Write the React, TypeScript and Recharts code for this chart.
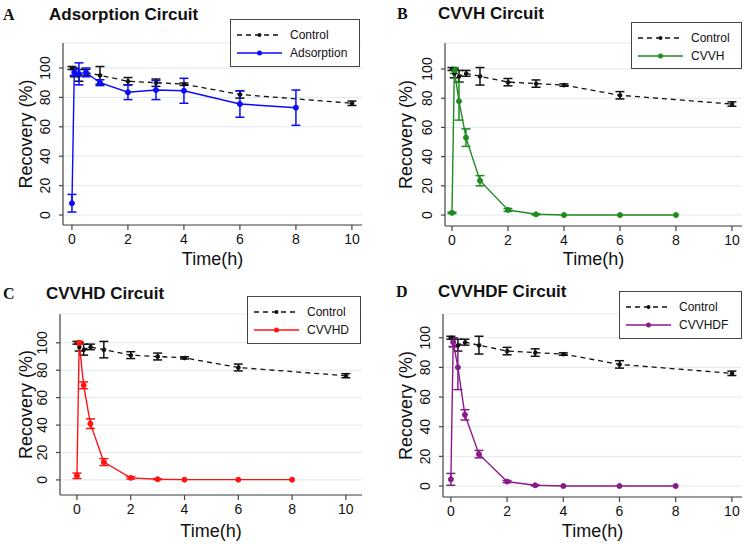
import React from 'react';
import { ComposedChart, Line, XAxis, YAxis, CartesianGrid, ErrorBar } from 'recharts';

// sampling times (h)
const controlTime = [0, 0.083, 0.25, 0.5, 1, 2, 3, 4, 6, 10];
const circuitTime = [0, 0.083, 0.25, 0.5, 1, 2, 3, 4, 6, 8];

// control (no circuit) recovery, mean and sd (%)
const controlMean = [100, 97, 95, 97, 95, 91, 90, 89, 82, 76];
const controlSd = [1, 3, 4, 2, 6, 2.5, 2.5, 0.8, 2.5, 1.5];

const adsorptionMean = [8, 97, 96, 97, 90, 83.5, 85, 84.5, 75.5, 73];
const adsorptionSd = [6, 2, 7.5, 3, 2, 5, 6.5, 8.5, 9, 12];

const cvvhMean = [1.5, 99, 78, 53, 23.5, 3.5, 0.5, 0, 0, 0];
const cvvhSd = [0.5, 2, 13, 6, 3.5, 1, 0.3, 0, 0, 0];

const cvvhdMean = [3, 100, 69, 41, 13, 1.5, 0.5, 0.2, 0.2, 0.2];
const cvvhdSd = [2, 1, 2.5, 3.5, 2.5, 0.8, 0.3, 0, 0, 0];

const cvvhdfMean = [4.5, 97, 80, 48, 21.5, 3, 0.5, 0, 0, 0];
const cvvhdfSd = [4, 3, 15, 3.5, 2.5, 0.7, 0.3, 0, 0, 0];

const xTicks = [0, 2, 4, 6, 8, 10];
const yTicks = [0, 20, 40, 60, 80, 100];

const W = 375;
const H = 272;
const Y_AXIS_W = 40;
const X_AXIS_H = 30;

interface PanelCfg {
    letter: string;
    title: string;
    name: string;
    color: string;
    mean: number[];
    sd: number[];
    left: number;
    right: number;
    top: number;
    bottom: number;
    xDomain: [number, number];
    yDomain: [number, number];
    letterX: number;
    titleX: number;
    titleY: number;
    yLabelX: number;
    legend: { x: number; y: number; w: number; h: number };
}

const panels: PanelCfg[] = [
    {
        letter: 'A', title: 'Adsorption Circuit', name: 'Adsorption', color: '#0a0aff',
        mean: adsorptionMean, sd: adsorptionSd,
        left: 63, right: 362, top: 43, bottom: 225,
        xDomain: [-0.32, 10.36], yDomain: [-6.8, 117],
        letterX: 3, titleX: 49, titleY: 20, yLabelX: 32,
        legend: { x: 230, y: 19, w: 129, h: 47 },
    },
    {
        letter: 'B', title: 'CVVH Circuit', name: 'CVVH', color: '#1f8a1f',
        mean: cvvhMean, sd: cvvhSd,
        left: 70, right: 367, top: 43, bottom: 226,
        xDomain: [-0.25, 10.36], yDomain: [-7.5, 117.8],
        letterX: 22, titleX: 63, titleY: 19, yLabelX: 37,
        legend: { x: 256, y: 22, w: 110, h: 46 },
    },
    {
        letter: 'C', title: 'CVVHD Circuit', name: 'CVVHD', color: '#ff1414',
        mean: cvvhdMean, sd: cvvhdSd,
        left: 60, right: 362, top: 42, bottom: 223,
        xDomain: [-0.63, 10.6], yDomain: [-11, 121],
        letterX: 3, titleX: 46, titleY: 27, yLabelX: 32,
        legend: { x: 247, y: 24, w: 113, h: 47 },
    },
    {
        letter: 'D', title: 'CVVHDF Circuit', name: 'CVVHDF', color: '#8a1a8a',
        mean: cvvhdfMean, sd: cvvhdfSd,
        left: 68, right: 367, top: 42, bottom: 225,
        xDomain: [-0.28, 10.36], yDomain: [-7.4, 116],
        letterX: 21, titleX: 63, titleY: 25, yLabelX: 37,
        legend: { x: 244, y: 19, w: 122, h: 47 },
    },
];

// rotated y tick labels, like the original
const YTick = (props: any) => {
    const { x, y, payload } = props;
    return (
        <text x={x} y={y} transform={`rotate(-90, ${x}, ${y})`} textAnchor="middle" fontSize={14} fill="#111">
            {payload.value}
        </text>
    );
};

const Panel = ({ cfg }: { cfg: PanelCfg }) => {
    const controlData = controlTime.map((t, i) => ({ t, v: controlMean[i], e: controlSd[i] }));
    const circuitData = circuitTime.map((t, i) => ({ t, v: cfg.mean[i], e: cfg.sd[i] }));
    const margin = {
        top: cfg.top,
        right: W - cfg.right,
        bottom: H - cfg.bottom - X_AXIS_H,
        left: cfg.left - Y_AXIS_W,
    };
    const midY = (cfg.top + cfg.bottom) / 2;
    const midX = (cfg.left + cfg.right) / 2;
    const lg = cfg.legend;

    return (
        <div style={{ position: 'relative', width: W, height: H }}>
            <ComposedChart width={W} height={H} margin={margin}>
                <CartesianGrid vertical={false} stroke="#dde9f0" />
                <XAxis
                    type="number"
                    dataKey="t"
                    domain={cfg.xDomain}
                    ticks={xTicks}
                    allowDataOverflow
                    height={X_AXIS_H}
                    tickSize={5}
                    tickMargin={4}
                    stroke="#444"
                    strokeWidth={1.2}
                    tick={{ fill: '#111', fontSize: 14 }}
                />
                <YAxis
                    type="number"
                    domain={cfg.yDomain}
                    ticks={yTicks}
                    allowDataOverflow
                    width={Y_AXIS_W}
                    tickSize={4}
                    tickMargin={9}
                    stroke="#444"
                    strokeWidth={1.2}
                    tick={<YTick />}
                />
                <Line
                    data={controlData}
                    dataKey="v"
                    stroke="#111"
                    strokeWidth={1.3}
                    strokeDasharray="5 4"
                    dot={{ r: 2, fill: '#111', stroke: '#111', strokeWidth: 1 }}
                    isAnimationActive={false}
                >
                    <ErrorBar dataKey="e" width={4.5} stroke="#111" strokeWidth={1.5} direction="y" />
                </Line>
                <Line
                    data={circuitData}
                    dataKey="v"
                    stroke={cfg.color}
                    strokeWidth={1.4}
                    dot={{ r: 2.5, fill: cfg.color, stroke: cfg.color, strokeWidth: 1 }}
                    isAnimationActive={false}
                >
                    <ErrorBar dataKey="e" width={4.5} stroke={cfg.color} strokeWidth={1.5} direction="y" />
                </Line>
            </ComposedChart>
            <svg width={W} height={H} style={{ position: 'absolute', left: 0, top: 0, pointerEvents: 'none' }}>
                <text x={cfg.letterX} y={cfg.titleY} fontFamily="'Liberation Serif', 'Times New Roman', serif" fontWeight="bold" fontSize={16} fill="#111">
                    {cfg.letter}
                </text>
                <text x={cfg.titleX} y={cfg.titleY} fontWeight="bold" fontSize={17} fill="#111">
                    {cfg.title}
                </text>
                <text x={cfg.yLabelX} y={midY} transform={`rotate(-90, ${cfg.yLabelX}, ${midY})`} textAnchor="middle" fontSize={18} fill="#111">
                    Recovery (%)
                </text>
                <text x={midX} y={265} textAnchor="middle" fontSize={18} fill="#111">
                    Time(h)
                </text>
                <rect x={lg.x + 0.5} y={lg.y + 0.5} width={lg.w} height={lg.h} fill="#fff" stroke="#444" strokeWidth={1} />
                <line x1={lg.x + 7} x2={lg.x + 52} y1={lg.y + 16} y2={lg.y + 16} stroke="#111" strokeWidth={1.3} strokeDasharray="5 4" />
                <circle cx={lg.x + 29.5} cy={lg.y + 16} r={2} fill="#111" />
                <text x={lg.x + 60} y={lg.y + 20} fontSize={12} fill="#111">Control</text>
                <line x1={lg.x + 7} x2={lg.x + 52} y1={lg.y + 34} y2={lg.y + 34} stroke={cfg.color} strokeWidth={1.4} />
                <circle cx={lg.x + 29.5} cy={lg.y + 34} r={2.5} fill={cfg.color} />
                <text x={lg.x + 60} y={lg.y + 38} fontSize={12} fill="#111">{cfg.name}</text>
            </svg>
        </div>
    );
};

export default function App() {
    return (
        <div
            style={{
                position: 'absolute',
                left: 0,
                top: 0,
                width: 750,
                height: 544,
                background: '#fff',
                fontFamily: "'Liberation Sans', Arial, Helvetica, sans-serif",
                display: 'grid',
                gridTemplateColumns: `${W}px ${W}px`,
                gridTemplateRows: `${H}px ${H}px`,
            }}
        >
            {panels.map((p) => (
                <Panel key={p.letter} cfg={p} />
            ))}
        </div>
    );
}
